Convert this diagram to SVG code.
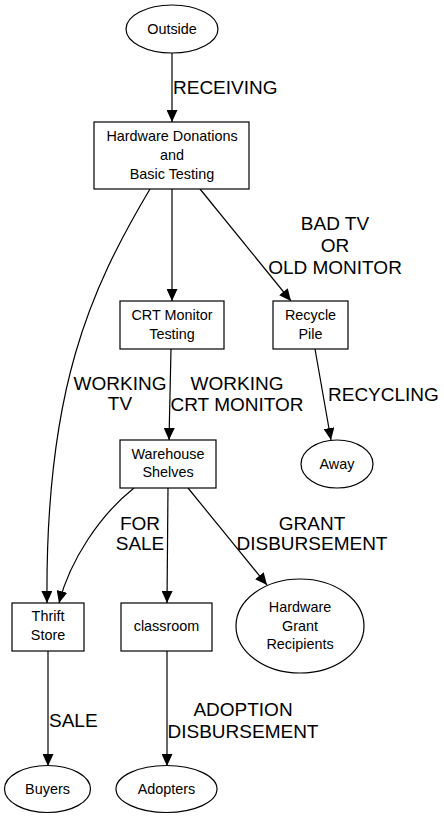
<svg xmlns="http://www.w3.org/2000/svg" width="444" height="819" viewBox="0 0 444 819">
<style>
.n{fill:#fff;stroke:#000;stroke-width:1.2}
.t{font-family:"Liberation Sans",Arial,sans-serif;font-size:14.4px;text-anchor:middle;fill:#000}
.l{font-family:"Liberation Sans",Arial,sans-serif;font-size:19px;text-anchor:middle;fill:#000}
.e{fill:none;stroke:#000;stroke-width:1.2}
</style>
<defs>
<marker id="a" markerUnits="userSpaceOnUse" markerWidth="12" markerHeight="11" refX="12" refY="5.5" orient="auto" viewBox="0 0 12 11">
<polygon points="0,0 12,5.5 0,11" fill="#000"/>
</marker>
</defs>
<rect width="444" height="819" fill="#fff"/>
<g id="edges">
<path class="e" marker-end="url(#a)" d="M172,53 L172,122"/>
<path class="e" marker-end="url(#a)" d="M172,189 L172,301"/>
<path class="e" marker-end="url(#a)" d="M200,189 L291,301"/>
<path class="e" marker-end="url(#a)" d="M150,189 C90,290 45,390 47,603"/>
<path class="e" marker-end="url(#a)" d="M171,349 L169,440"/>
<path class="e" marker-end="url(#a)" d="M315,349 L331,440"/>
<path class="e" marker-end="url(#a)" d="M134,488 C100,515 70,560 59,603"/>
<path class="e" marker-end="url(#a)" d="M168,488 L167,603"/>
<path class="e" marker-end="url(#a)" d="M188,488 L267,585"/>
<path class="e" marker-end="url(#a)" d="M48,651 L48,766"/>
<path class="e" marker-end="url(#a)" d="M167,651 L167,766"/>
<text class="l" x="173" y="94" style="text-anchor:start">RECEIVING</text>
<text class="l" x="335" y="229.5">BAD TV</text>
<text class="l" x="335" y="251.5">OR</text>
<text class="l" x="335" y="273.5">OLD MONITOR</text>
<text class="l" x="120" y="389.5">WORKING</text>
<text class="l" x="120" y="410">TV</text>
<text class="l" x="237" y="389.5">WORKING</text>
<text class="l" x="237" y="410.5">CRT MONITOR</text>
<text class="l" x="328" y="400.5" style="text-anchor:start">RECYCLING</text>
<text class="l" x="140" y="529.5">FOR</text>
<text class="l" x="140" y="549.5">SALE</text>
<text class="l" x="312" y="529.5">GRANT</text>
<text class="l" x="312" y="549.5">DISBURSEMENT</text>
<text class="l" x="49" y="726.5" style="text-anchor:start">SALE</text>
<text class="l" x="243" y="715.5">ADOPTION</text>
<text class="l" x="243" y="737.5">DISBURSEMENT</text>
</g>
<g id="outside"><ellipse class="n" cx="172" cy="29" rx="46" ry="24"/><text class="t" x="172" y="34">Outside</text></g>
<g id="donations"><rect class="n" x="94" y="122" width="155" height="67"/><text class="t" x="172" y="141">Hardware Donations</text><text class="t" x="172" y="160">and</text><text class="t" x="172" y="179">Basic Testing</text></g>
<g id="crt"><rect class="n" x="120" y="301" width="104" height="48"/><text class="t" x="172" y="320">CRT Monitor</text><text class="t" x="172" y="339">Testing</text></g>
<g id="recycle"><rect class="n" x="273" y="301" width="75" height="48"/><text class="t" x="310.5" y="320">Recycle</text><text class="t" x="310.5" y="339">Pile</text></g>
<g id="warehouse"><rect class="n" x="120" y="440" width="96" height="48"/><text class="t" x="168" y="459">Warehouse</text><text class="t" x="168" y="477">Shelves</text></g>
<g id="away"><ellipse class="n" cx="337" cy="464" rx="36" ry="24"/><text class="t" x="337" y="469">Away</text></g>
<g id="thrift"><rect class="n" x="12" y="603" width="72" height="48"/><text class="t" x="48" y="621">Thrift</text><text class="t" x="48" y="640">Store</text></g>
<g id="classroom"><rect class="n" x="121" y="603" width="91" height="48"/><text class="t" x="166.5" y="631">classroom</text></g>
<g id="grant"><ellipse class="n" cx="300" cy="626" rx="64" ry="47"/><text class="t" x="300" y="612">Hardware</text><text class="t" x="300" y="631">Grant</text><text class="t" x="300" y="649">Recipients</text></g>
<g id="buyers"><ellipse class="n" cx="47.5" cy="789" rx="43" ry="23.5"/><text class="t" x="47.5" y="794">Buyers</text></g>
<g id="adopters"><ellipse class="n" cx="166.5" cy="789" rx="50.5" ry="23.5"/><text class="t" x="166.5" y="794">Adopters</text></g>
</svg>
